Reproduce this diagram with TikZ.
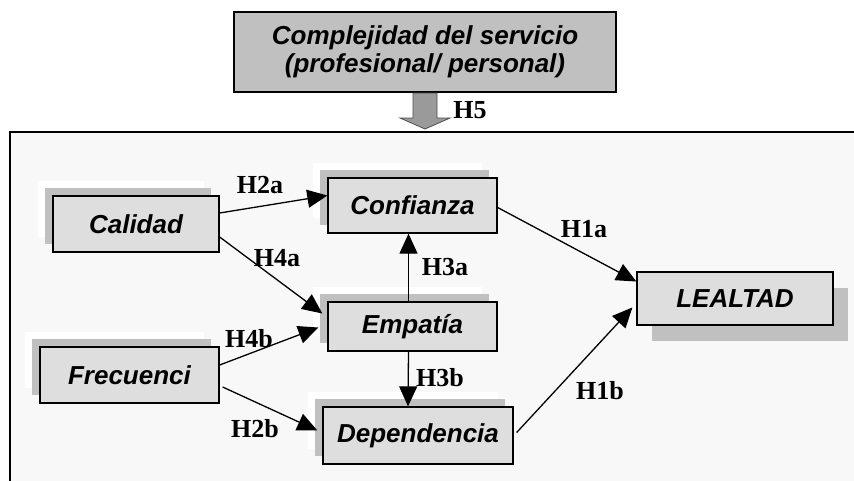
\documentclass[tikz,border=0pt]{standalone}
\usepackage{fontspec}
\setmainfont{Liberation Sans}
\newfontfamily\hypfont{Liberation Serif}
\usetikzlibrary{arrows.meta,shadows}
\definecolor{framegray}{HTML}{F8F8F8}
\definecolor{boxgray}{HTML}{DEDEDE}
\definecolor{shadegray}{HTML}{C0C0C0}
\definecolor{arrowgray}{HTML}{9A9A9A}
\begin{document}
\begin{tikzpicture}[x=1pt, y=-1pt, line width=1.3pt,
	factor/.style		= {draw, fill=boxgray, inner sep=0pt, font=\fontsize{26}{29}\selectfont\bfseries\itshape},
	backshade/.style	= {general shadow={fill=white, shadow xshift=-15pt, shadow yshift=15pt},
				   general shadow={fill=shadegray, shadow xshift=-8pt, shadow yshift=8pt}},
	frontshade/.style	= {general shadow={fill=shadegray, shadow xshift=15pt, shadow yshift=-16pt}},
	hyp/.style		= {anchor=base, inner sep=0pt, font=\fontsize{26}{29}\selectfont\hypfont\bfseries},
	link/.style		= {-{Triangle[length=20pt, width=18pt]}}]
	\clip (0,0) rectangle (854,480);
	% frame of the model
	\fill[framegray] (10,132) rectangle (870,490);
	\draw (10,490) -- (10,132) -- (870,132);
	\node (cplx) at (425, 52)	[draw, fill=shadegray, minimum width=382pt, minimum height=80pt, inner sep=0pt,
					 align=center, font=\fontsize{26}{28}\selectfont\bfseries\itshape]
					{Complejidad del servicio\\(profesional/ personal)};
	\draw[draw=black!70, fill=arrowgray, line width=0.8pt] (413,93) -- (413,118) -- (400,118) -- (425,129)
					-- (450,118) -- (437,118) -- (437,93) -- cycle;
	\node (leal) at (735, 298.5)	[factor, frontshade, minimum width=196pt, minimum height=53pt]	{LEALTAD};
	\node (cal)  at (136, 224)	[factor, backshade, minimum width=166pt, minimum height=56pt]	{Calidad};
	\node (frec) at (129.5, 375)	[factor, backshade, minimum width=179pt, minimum height=56pt]	{Frecuenci};
	\node (conf) at (412.5, 205.5)	[factor, backshade, minimum width=169pt, minimum height=55pt]	{Confianza};
	\node (emp)  at (412.5, 326.5)	[factor, backshade, minimum width=169pt, minimum height=49pt]	{Empatía};
	\node (dep)  at (418, 435.5)	[factor, backshade, minimum width=190pt, minimum height=57pt]	{Dependencia};
	\draw[link] ([yshift=11pt]cal.east) -- ([yshift=10pt]conf.west);
	\draw[link] ([yshift=-13pt]cal.east) -- ([xshift=-5pt, yshift=13pt]emp.west);
	\draw[link] ([yshift=10pt]frec.east) -- ([xshift=-9pt, yshift=-1pt]emp.west);
	\draw[link] ([xshift=3pt, yshift=-12pt]frec.east) -- ([xshift=-5pt, yshift=5pt]dep.west);
	\draw[link] ([xshift=-4pt]emp.north) -- ([xshift=-4pt]conf.south);
	\draw[link] ([xshift=-4pt]emp.south) -- ([xshift=-10pt]dep.north);
	\draw[link] ([yshift=-2pt]conf.east) -- ([yshift=17pt]leal.west);
	\draw[link] ([xshift=3pt, yshift=3pt]dep.east) -- ([xshift=-4pt, yshift=-9pt]leal.west);
	\node (h5)  at (470, 118)	[hyp]	{H5};
	\node (h2a) at (260, 193)	[hyp]	{H2a};
	\node (h4a) at (277, 266)	[hyp]	{H4a};
	\node (h3a) at (445, 275)	[hyp]	{H3a};
	\node (h1a) at (584, 237)	[hyp]	{H1a};
	\node (h4b) at (249, 347)	[hyp]	{H4b};
	\node (h2b) at (255, 437)	[hyp]	{H2b};
	\node (h3b) at (440, 386)	[hyp]	{H3b};
	\node (h1b) at (600, 399)	[hyp]	{H1b};
\end{tikzpicture}
\end{document}
